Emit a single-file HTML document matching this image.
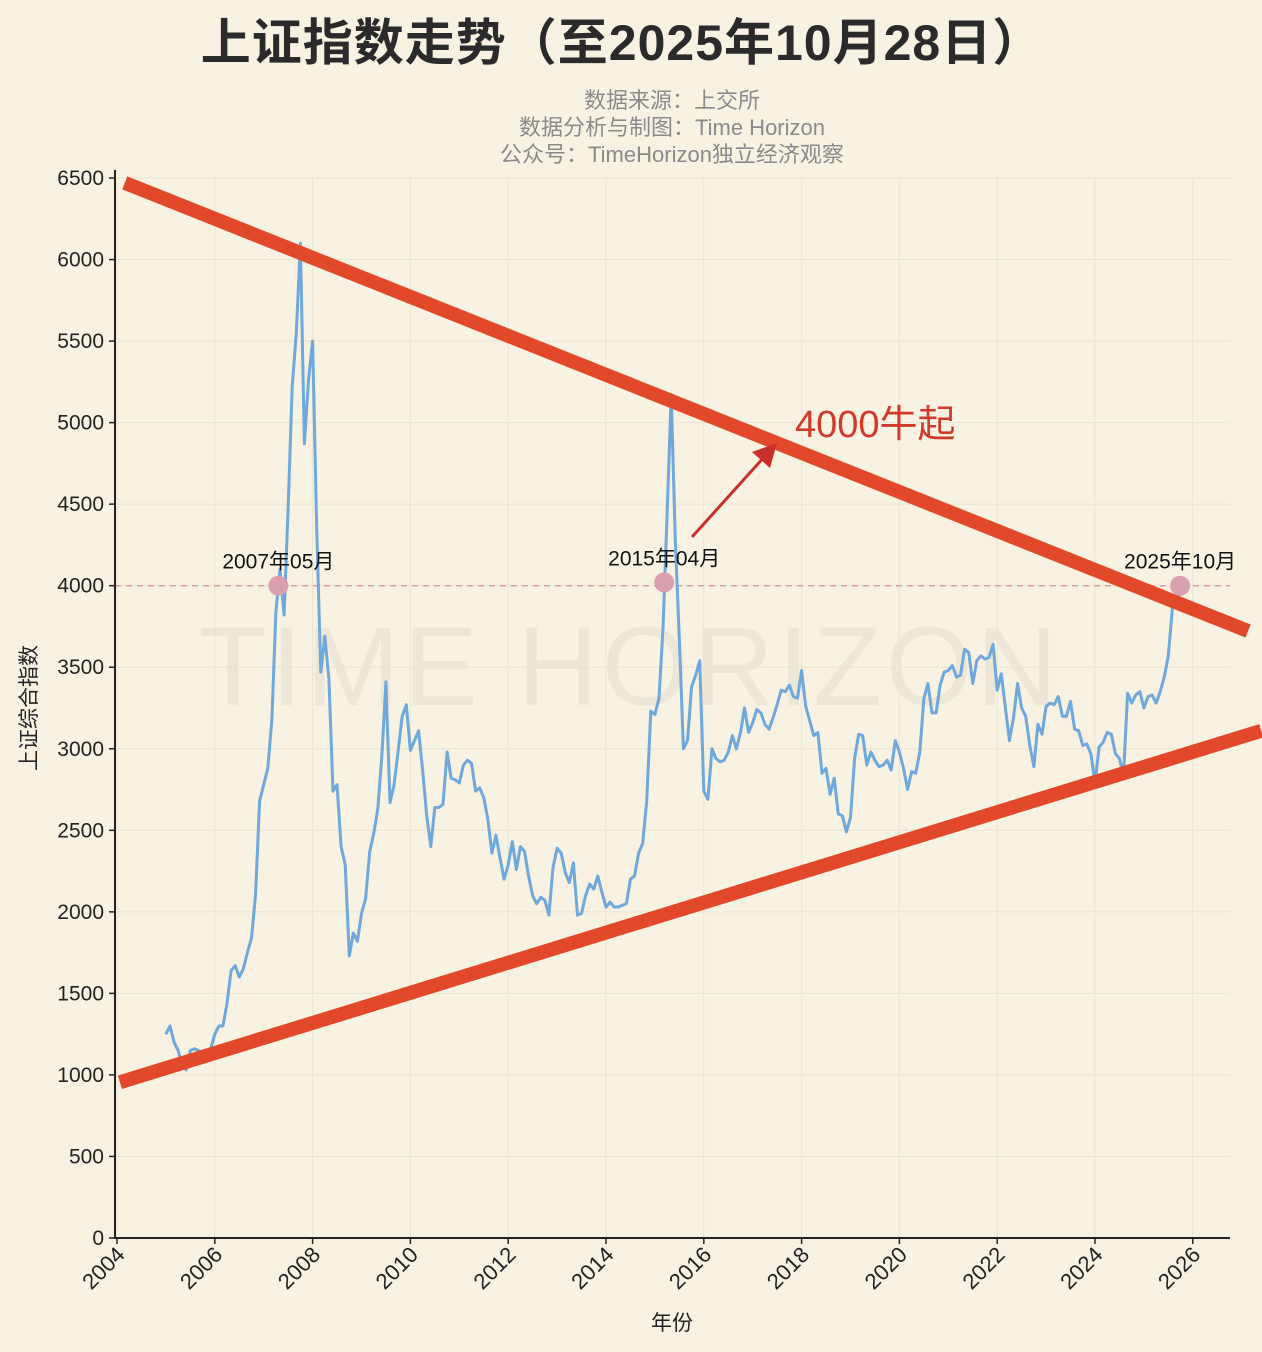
<!DOCTYPE html>
<html><head><meta charset="utf-8">
<style>
html,body{margin:0;padding:0;background:#f8f2e2;}
svg{display:block;font-family:"Liberation Sans","Noto Sans CJK SC",sans-serif;}
</style></head>
<body>
<svg id="chart" width="1262" height="1352" viewBox="0 0 1262 1352" xmlns="http://www.w3.org/2000/svg">
<rect width="1262" height="1352" fill="#f8f2e2"/>
<text x="622" y="60" text-anchor="middle" font-size="50" font-weight="bold" letter-spacing="1" fill="#2a2a2a">上证指数走势（至2025年10月28日）</text>
<text x="672" y="108" text-anchor="middle" font-size="22" fill="#8a8a8a">数据来源：上交所</text>
<text x="672" y="135" text-anchor="middle" font-size="22" fill="#8a8a8a">数据分析与制图：Time Horizon</text>
<text x="672" y="162" text-anchor="middle" font-size="22" fill="#8a8a8a">公众号：TimeHorizon独立经济观察</text>
<text x="630" y="705" text-anchor="middle" font-size="112" fill="#000" fill-opacity="0.045" letter-spacing="4">TIME HORIZON</text>
<g id="grid"></g>
<g id="plot"></g>
<g id="axes"></g>
<text x="672" y="1330" text-anchor="middle" font-size="21" fill="#222">年份</text>
<text transform="translate(36,708) rotate(-90)" text-anchor="middle" font-size="21" fill="#222">上证综合指数</text>
</svg>
<script>
const years = [2005,2006,2007,2008,2009,2010,2011,2012,2013,2014,2015,2016,2017,2018,2019,2020,2021,2022,2023,2024,2025];
const monthlyValues = [
[1250,1300,1200,1150,1060,1030,1150,1160,1150,1100,1100,1160],
[1250,1300,1300,1440,1640,1670,1600,1650,1750,1840,2100,2680],
[2780,2880,3180,3840,4100,3820,4470,5220,5550,6100,4870,5260],
[5500,4350,3470,3690,3430,2740,2780,2400,2290,1730,1870,1820],
[1990,2080,2370,2480,2630,2960,3410,2670,2780,2990,3200,3270],
[2990,3050,3110,2870,2590,2400,2640,2640,2660,2980,2820,2810],
[2790,2900,2930,2910,2740,2760,2700,2570,2360,2470,2330,2200],
[2290,2430,2260,2400,2370,2220,2100,2050,2090,2070,1980,2270],
[2390,2360,2240,2180,2300,1980,1990,2100,2170,2140,2220,2120],
[2030,2060,2030,2030,2040,2050,2200,2220,2360,2420,2680,3230],
[3210,3310,3750,4440,5170,4280,3660,3000,3050,3380,3450,3540],
[2740,2690,3000,2940,2920,2930,2980,3080,3000,3100,3250,3100],
[3160,3240,3220,3150,3120,3190,3270,3360,3350,3390,3320,3310],
[3480,3260,3170,3080,3100,2850,2880,2720,2820,2600,2590,2490],
[2580,2940,3090,3080,2900,2980,2930,2890,2900,2930,2870,3050],
[2980,2880,2750,2860,2850,2980,3310,3400,3220,3220,3390,3470],
[3480,3510,3440,3450,3610,3590,3400,3540,3570,3550,3560,3640],
[3360,3460,3250,3050,3190,3400,3250,3200,3020,2890,3150,3090],
[3260,3280,3270,3320,3200,3200,3290,3120,3110,3020,3030,2970],
[2790,3010,3040,3100,3090,2970,2940,2840,3340,3280,3330,3350],
[3250,3320,3330,3280,3350,3440,3570,3860,3880,3990]
];
const yTicks = [0,500,1000,1500,2000,2500,3000,3500,4000,4500,5000,5500,6000,6500];
const xTicks = [2004,2006,2008,2010,2012,2014,2016,2018,2020,2022,2024,2026];
const markerDates = [2007.3,2015.19,2025.74];
const markerValues = [4000,4020,4000];
const markerLabels = ["2007年05月","2015年04月","2025年10月"];
const upperTrend = [[2004.16,6470],[2027.13,3722]];
const lowerTrend = [[2004.06,955],[2027.4,3110]];
const refLevel = 4000;

const X0=117, PXY=48.9, Y0=1238, PXV=1060/6500;
const xs = t => X0 + (t-2004)*PXY;
const ys = v => Y0 - v*PXV;
const NS="http://www.w3.org/2000/svg";
function mk(tag, parent, attrs){const e=document.createElementNS(NS,tag);for(const k in attrs)e.setAttribute(k,attrs[k]);parent.appendChild(e);return e;}
const grid=document.getElementById('grid'), plot=document.getElementById('plot'), axes=document.getElementById('axes');

yTicks.forEach(v=>{
  const l=mk('line',grid,{x1:115,x2:1230,y1:ys(v),y2:ys(v),stroke:'#ebe4d2','stroke-width':1});
  
  
  const tk=mk('line',axes,{x1:109,x2:115,y1:ys(v),y2:ys(v),stroke:'#222','stroke-width':1.5});
  
  
  const t=mk('text',axes,{x:104,y:ys(v)+7,'text-anchor':'end','font-size':21,fill:'#222'});
  t.textContent=v;
  
  
});
xTicks.forEach(y=>{
  const l=mk('line',grid,{x1:xs(y),x2:xs(y),y1:178,y2:1238,stroke:'#ebe4d2','stroke-width':1});
  
  
  const tk=mk('line',axes,{x1:xs(y),x2:xs(y),y1:1238,y2:1244,stroke:'#222','stroke-width':1.5});
  
  
  const t=mk('text',axes,{transform:`translate(${xs(y)+9},${1256}) rotate(-45)`,'text-anchor':'end','font-size':22,fill:'#222'});
  t.textContent=y;
  
  
});
const sp1=mk('line',axes,{x1:115,x2:115,y1:170,y2:1239,stroke:'#222','stroke-width':2});


const sp2=mk('line',axes,{x1:114,x2:1230,y1:1238,y2:1238,stroke:'#222','stroke-width':2});



const ref=mk('line',plot,{x1:115,x2:1230,y1:ys(refLevel),y2:ys(refLevel),stroke:'#d9a0a0','stroke-width':1.5,'stroke-dasharray':'6,5'});



let d='';
years.forEach((yr,i)=>monthlyValues[i].forEach((v,m)=>{d+=(d?'L':'M')+xs(yr+m/12).toFixed(1)+','+ys(v).toFixed(1);}));
const line=mk('path',plot,{d:d,fill:'none',stroke:'#6fa8dc','stroke-width':3,'stroke-linejoin':'round'});



[upperTrend,lowerTrend].forEach((tr,i)=>{
  const l=mk('line',plot,{x1:xs(tr[0][0]),y1:ys(tr[0][1]),x2:xs(tr[1][0]),y2:ys(tr[1][1]),stroke:'#e2492b','stroke-width':14});
  
  
});

markerDates.forEach((t,i)=>{
  const c=mk('circle',plot,{cx:xs(t),cy:ys(markerValues[i]),r:10,fill:'#dba0b0'});
  
  
  const tx=mk('text',plot,{x:xs(t),y:ys(markerValues[i])-17,'text-anchor':'middle','font-size':21,fill:'#111'});
  tx.textContent=markerLabels[i];
  
  
});

const ar=mk('line',plot,{x1:692,y1:537,x2:765,y2:456,stroke:'#c8302a','stroke-width':3});


const ah=mk('polygon',plot,{points:'777,443 770,468 752,452',fill:'#c8302a'});


const an=mk('text',plot,{x:795,y:437,'font-size':38,fill:'#d03a2a'});
an.textContent='4000牛起';


</script>
</body></html>
